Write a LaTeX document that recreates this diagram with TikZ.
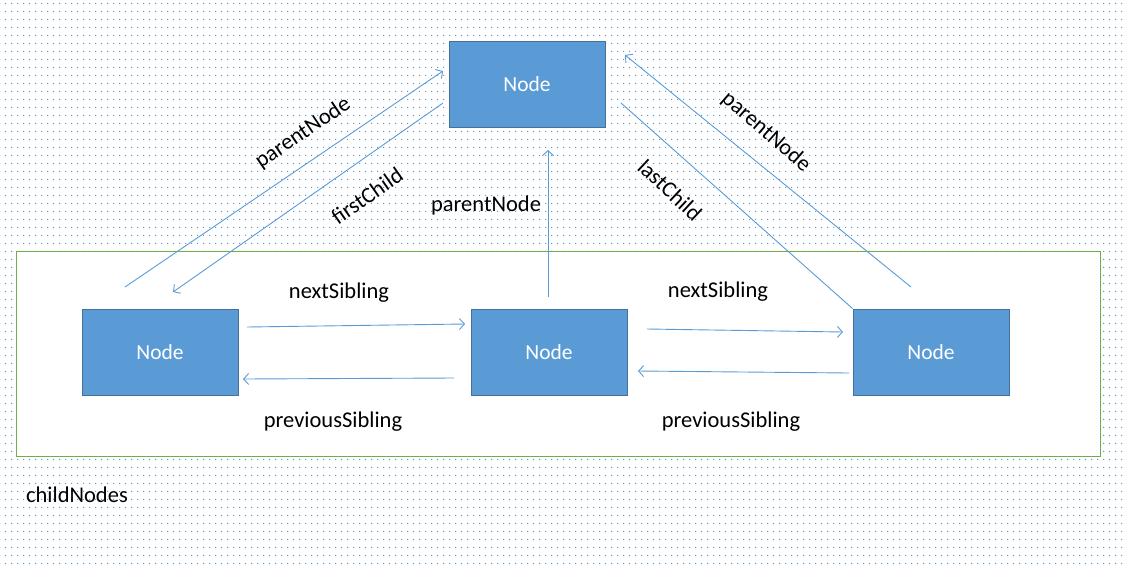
\documentclass[tikz,border=0pt]{standalone}
\usepackage{fontspec}
\setmainfont{Carlito}
\usetikzlibrary{arrows.meta,patterns}
\definecolor{nodefill}{HTML}{5B9BD5}
\definecolor{nodeedge}{HTML}{41719C}
\definecolor{linkcol}{HTML}{5B9BD5}
\definecolor{grp}{HTML}{70AD47}
\definecolor{dotcol}{HTML}{5B9BD5}
\pgfdeclarepatternformonly{bgdots}{\pgfpointorigin}{\pgfpoint{6pt}{8pt}}{\pgfpoint{6pt}{8pt}}{%
  \pgfpathrectangle{\pgfpointorigin}{\pgfpoint{1.2pt}{1.2pt}}\pgfusepath{fill}}
\tikzset{
  domnode/.style={draw=nodeedge, line width=1pt, fill=nodefill, minimum width=156pt, minimum height=86pt, inner sep=0pt, text=white, font=\fontsize{21.5}{25}\selectfont},
  link/.style={draw=linkcol, line width=0.9pt, -{Straight Barb[length=5pt,width=11pt,line width=0.9pt]}},
  plainlink/.style={draw=linkcol, line width=0.9pt},
  lbl/.style={font=\fontsize{22.5}{26}\selectfont, text=black, inner sep=0pt}
}
\begin{document}
\begin{tikzpicture}[x=1pt,y=-1pt]
\useasboundingbox (0,0) rectangle (1127,563);
\fill[white] (0,0) rectangle (1127,563);
\fill[pattern=bgdots, pattern color=dotcol] (0,0) rectangle (1127,563);
\node[draw=grp, line width=1pt, fill=white, minimum width=1084pt, minimum height=205pt, inner sep=0pt] (group) at (558,353.5) {};
\node[domnode] (top) at (527,84) {Node};
\node[domnode] (left) at (160,352) {Node};
\node[domnode] (mid) at (549,352) {Node};
\node[domnode] (right) at (931,352) {Node};
% coordinates
\coordinate (pl1) at (125,287); \coordinate (pl2) at (443,71);
\coordinate (fc1) at (443,103); \coordinate (fc2) at (173,292);
\coordinate (pm1) at (548,297); \coordinate (pm2) at (548,150);
\coordinate (lc1) at (621,103);
\coordinate (pr1) at (911,287); \coordinate (pr2) at (625,55);
\coordinate (ns1a) at (247,327); \coordinate (ns1b) at (465,324);
\coordinate (ps1a) at (454,378); \coordinate (ps1b) at (243,379);
\coordinate (ns2a) at (647,329); \coordinate (ns2b) at (843,332);
\coordinate (ps2a) at (849,373); \coordinate (ps2b) at (638,371);
\draw[link] (pl1) -- (pl2);
\draw[link] (fc1) -- (fc2);
\draw[link] (pm1) -- (pm2);
\draw[plainlink] (lc1) -- (right.north west);
\draw[link] (pr1) -- (pr2);
\draw[link] (ns1a) -- (ns1b);
\draw[link] (ps1a) -- (ps1b);
\draw[link] (ns2a) -- (ns2b);
\draw[link] (ps2a) -- (ps2b);
% labels
\node[lbl, rotate=34] (lpl) at (303,133) {parentNode};
\node[lbl, rotate=35] (lfc) at (367,196) {firstChild};
\node[lbl] (lpm) at (486,205) {parentNode};
\node[lbl, rotate=-43] (llc) at (670,190) {lastChild};
\node[lbl, rotate=-41] (lpr) at (766,132) {parentNode};
\node[lbl] (lns1) at (339,293) {nextSibling};
\node[lbl] (lns2) at (718,292) {nextSibling};
\node[lbl] (lps1) at (333,422) {previousSibling};
\node[lbl] (lps2) at (731,422) {previousSibling};
\node[lbl] (lcn) at (77,495) {childNodes};
\end{tikzpicture}
\end{document}
